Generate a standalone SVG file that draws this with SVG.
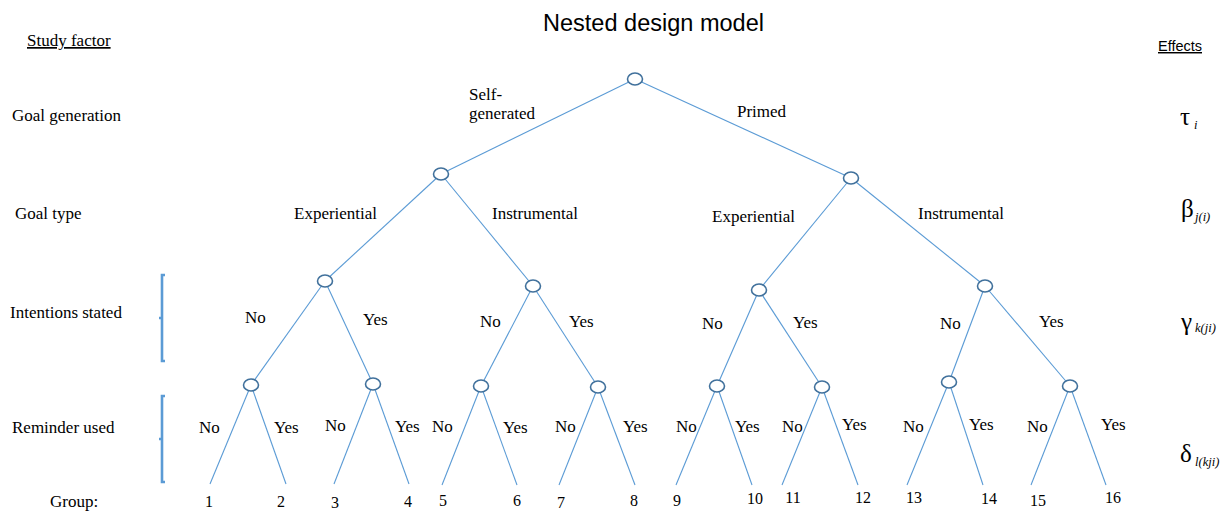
<svg xmlns="http://www.w3.org/2000/svg" width="1223" height="511" viewBox="0 0 1223 511">
  <defs>
    <style>
      .t { font-family: 'Liberation Serif', 'DejaVu Serif', serif; font-size: 17px; fill: #000; }
      .g { font-family: 'Liberation Serif', 'DejaVu Serif', serif; font-size: 16px; fill: #000; text-anchor: middle; }
      .sans { font-family: 'Liberation Sans', sans-serif; fill: #000; }
      .greek { font-family: 'Liberation Serif', 'DejaVu Serif', serif; font-size: 25px; fill: #000; }
      .sub { font-family: 'Liberation Serif', 'DejaVu Serif', serif; font-size: 12.5px; font-style: italic; fill: #000; }
      .edge { stroke: #5b9bd5; stroke-width: 1.1; fill: none; }
      .node { fill: #fff; stroke: #41719c; stroke-width: 1.6; }
      .bracket { stroke: #5b9bd5; stroke-width: 2.6; fill: none; }
    </style>
  </defs>

  <rect width="1223" height="511" fill="#fff"/>

  <!-- title -->
  <text class="sans" x="543" y="31" font-size="23" textLength="221" lengthAdjust="spacingAndGlyphs">Nested design model</text>

  <!-- left column: study factors -->
  <g id="factors">
    <text class="t" x="27" y="46" text-decoration="underline">Study factor</text>
    <text class="t" x="12" y="121">Goal generation</text>
    <text class="t" x="15" y="219">Goal type</text>
    <text class="t" x="10" y="318">Intentions stated</text>
    <text class="t" x="12" y="433">Reminder used</text>
    <text class="t" x="50" y="507">Group:</text>
  </g>

  <!-- brackets -->
  <g id="brackets">
    <path class="bracket" d="M165,275 H162 V361 H165 M162,318 H159"/>
    <path class="bracket" d="M165,396 H162 V482 H165 M162,439 H159"/>
  </g>

  <!-- right column: effects -->
  <g id="effects">
    <text class="sans" x="1158" y="51" font-size="14.5" text-decoration="underline" textLength="44" lengthAdjust="spacingAndGlyphs">Effects</text>
    <text class="greek" x="1180" y="125">τ</text><text class="sub" x="1194" y="129">i</text>
    <text class="greek" x="1181" y="217">β</text><text class="sub" x="1195" y="221">j(i)</text>
    <text class="greek" x="1181" y="330">γ</text><text class="sub" x="1195" y="332">k(ji)</text>
    <text class="greek" x="1180" y="462">δ</text><text class="sub" x="1195" y="466">l(kji)</text>
  </g>

  <!-- connectors -->
  <g id="connectors">
    <line class="edge" x1="635" y1="79" x2="441" y2="174"/>
    <line class="edge" x1="635" y1="79" x2="851" y2="178"/>
    <line class="edge" x1="441" y1="174" x2="325" y2="281"/>
    <line class="edge" x1="441" y1="174" x2="533" y2="286"/>
    <line class="edge" x1="851" y1="178" x2="759" y2="290"/>
    <line class="edge" x1="851" y1="178" x2="985" y2="286"/>
    <line class="edge" x1="325" y1="281" x2="251" y2="385"/>
    <line class="edge" x1="325" y1="281" x2="373" y2="384"/>
    <line class="edge" x1="533" y1="286" x2="481" y2="386"/>
    <line class="edge" x1="533" y1="286" x2="598" y2="387"/>
    <line class="edge" x1="759" y1="290" x2="717" y2="386"/>
    <line class="edge" x1="759" y1="290" x2="822" y2="387"/>
    <line class="edge" x1="985" y1="286" x2="949" y2="382"/>
    <line class="edge" x1="985" y1="286" x2="1070" y2="386"/>
    <line class="edge" x1="251" y1="385" x2="210" y2="484"/>
    <line class="edge" x1="251" y1="385" x2="286" y2="484"/>
    <line class="edge" x1="373" y1="384" x2="334" y2="484"/>
    <line class="edge" x1="373" y1="384" x2="409" y2="484"/>
    <line class="edge" x1="481" y1="386" x2="442" y2="485"/>
    <line class="edge" x1="481" y1="386" x2="517" y2="485"/>
    <line class="edge" x1="598" y1="387" x2="559" y2="485"/>
    <line class="edge" x1="598" y1="387" x2="635" y2="485"/>
    <line class="edge" x1="717" y1="386" x2="676" y2="485"/>
    <line class="edge" x1="717" y1="386" x2="752" y2="485"/>
    <line class="edge" x1="822" y1="387" x2="782" y2="485"/>
    <line class="edge" x1="822" y1="387" x2="858" y2="485"/>
    <line class="edge" x1="949" y1="382" x2="907" y2="485"/>
    <line class="edge" x1="949" y1="382" x2="983" y2="485"/>
    <line class="edge" x1="1070" y1="386" x2="1031" y2="485"/>
    <line class="edge" x1="1070" y1="386" x2="1106" y2="485"/>
  </g>

  <!-- branch labels -->
  <g id="branch-labels">
    <text class="t" x="469" y="100">Self-</text>
    <text class="t" x="469" y="119">generated</text>
    <text class="t" x="737" y="117">Primed</text>
    <text class="t" x="294" y="219">Experiential</text>
    <text class="t" x="492" y="219">Instrumental</text>
    <text class="t" x="712" y="222">Experiential</text>
    <text class="t" x="918" y="219">Instrumental</text>
    <text class="t" x="245" y="323">No</text>
    <text class="t" x="363" y="325">Yes</text>
    <text class="t" x="480" y="327">No</text>
    <text class="t" x="569" y="327">Yes</text>
    <text class="t" x="702" y="329">No</text>
    <text class="t" x="793" y="328">Yes</text>
    <text class="t" x="940" y="329">No</text>
    <text class="t" x="1039" y="327">Yes</text>
    <text class="t" x="199" y="433">No</text>
    <text class="t" x="274" y="433">Yes</text>
    <text class="t" x="325" y="431">No</text>
    <text class="t" x="395" y="432">Yes</text>
    <text class="t" x="432" y="432">No</text>
    <text class="t" x="503" y="433">Yes</text>
    <text class="t" x="555" y="432">No</text>
    <text class="t" x="623" y="432">Yes</text>
    <text class="t" x="676" y="432">No</text>
    <text class="t" x="735" y="432">Yes</text>
    <text class="t" x="782" y="432">No</text>
    <text class="t" x="842" y="430">Yes</text>
    <text class="t" x="903" y="432">No</text>
    <text class="t" x="969" y="430">Yes</text>
    <text class="t" x="1027" y="432">No</text>
    <text class="t" x="1101" y="430">Yes</text>
  </g>

  <!-- nodes -->
  <g id="n-root"><ellipse class="node" cx="635" cy="79" rx="7.5" ry="6"/></g>
  <g id="n-self"><ellipse class="node" cx="441" cy="174" rx="7.5" ry="6"/></g>
  <g id="n-primed"><ellipse class="node" cx="851" cy="178" rx="7.5" ry="6"/></g>
  <g id="n-self-exp"><ellipse class="node" cx="325" cy="281" rx="7.5" ry="6"/></g>
  <g id="n-self-ins"><ellipse class="node" cx="533" cy="286" rx="7.5" ry="6"/></g>
  <g id="n-prim-exp"><ellipse class="node" cx="759" cy="290" rx="7.5" ry="6"/></g>
  <g id="n-prim-ins"><ellipse class="node" cx="985" cy="286" rx="7.5" ry="6"/></g>
  <g id="n-r1"><ellipse class="node" cx="251" cy="385" rx="7.5" ry="6"/></g>
  <g id="n-r2"><ellipse class="node" cx="373" cy="384" rx="7.5" ry="6"/></g>
  <g id="n-r3"><ellipse class="node" cx="481" cy="386" rx="7.5" ry="6"/></g>
  <g id="n-r4"><ellipse class="node" cx="598" cy="387" rx="7.5" ry="6"/></g>
  <g id="n-r5"><ellipse class="node" cx="717" cy="386" rx="7.5" ry="6"/></g>
  <g id="n-r6"><ellipse class="node" cx="822" cy="387" rx="7.5" ry="6"/></g>
  <g id="n-r7"><ellipse class="node" cx="949" cy="382" rx="7.5" ry="6"/></g>
  <g id="n-r8"><ellipse class="node" cx="1070" cy="386" rx="7.5" ry="6"/></g>

  <!-- group numbers -->
  <g id="groups">
    <text class="g" x="209" y="507">1</text>
    <text class="g" x="281" y="507">2</text>
    <text class="g" x="335" y="508">3</text>
    <text class="g" x="408" y="507">4</text>
    <text class="g" x="443" y="506">5</text>
    <text class="g" x="517" y="506">6</text>
    <text class="g" x="561" y="508">7</text>
    <text class="g" x="634" y="506">8</text>
    <text class="g" x="677" y="506">9</text>
    <text class="g" x="755" y="504">10</text>
    <text class="g" x="793" y="503">11</text>
    <text class="g" x="863" y="503">12</text>
    <text class="g" x="914" y="503">13</text>
    <text class="g" x="989" y="504">14</text>
    <text class="g" x="1038" y="506">15</text>
    <text class="g" x="1113" y="503">16</text>
  </g>
</svg>
